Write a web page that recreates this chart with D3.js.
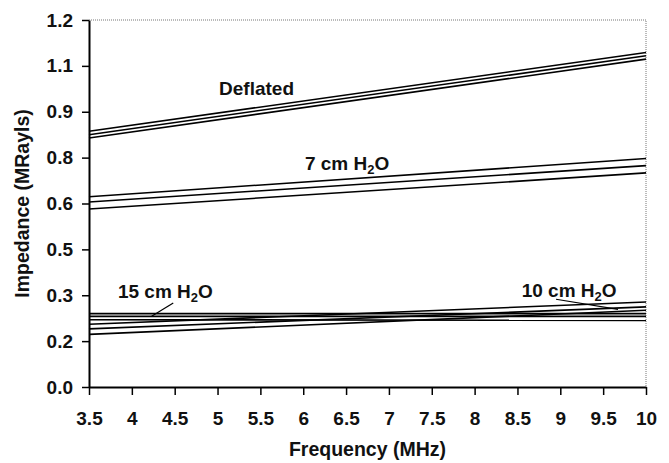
<!DOCTYPE html>
<html>
<head>
<meta charset="utf-8">
<script src="https://cdn.jsdelivr.net/npm/d3@7"></script>
<style>
  body { margin: 0; background: #fff; }
  svg text { font-family: "Liberation Sans", Arial, sans-serif; font-weight: bold; fill: #111; }
</style>
</head>
<body>
<div id="chart"></div>
<script>
// impedance at the two ends of the sweep (MHz)
var freqs = [3.5, 10];

var deflated = [[0.836, 1.094], [0.825, 1.083], [0.814, 1.072]];
var cm7 = [[0.622, 0.747], [0.605, 0.724], [0.582, 0.700]];
var cm15 = [[0.240, 0.240], [0.231, 0.231], [0.220, 0.218]];
var cm10 = [[0.205, 0.278], [0.190, 0.262], [0.172, 0.251]];

var xTicks = [3.5, 4, 4.5, 5, 5.5, 6, 6.5, 7, 7.5, 8, 8.5, 9, 9.5, 10];
var yTicks = [0, 0.15, 0.3, 0.45, 0.6, 0.75, 0.9, 1.05, 1.2];
var yTickLabels = ["0.0", "0.2", "0.3", "0.5", "0.6", "0.8", "0.9", "1.1", "1.2"];

var width = 669, height = 463;
var margin = {top: 20, right: 23, bottom: 76, left: 89};

var svg = d3.select("#chart").append("svg")
    .attr("width", width)
    .attr("height", height);

var x = d3.scaleLinear().domain([3.5, 10]).range([margin.left, width - margin.right]);
var y = d3.scaleLinear().domain([0, 1.2]).range([height - margin.bottom, margin.top]);

// top / right frame, dotted grey like the scan
svg.append("path")
    .attr("d", "M" + x(3.5) + "," + y(1.2) + "H" + x(10) + "V" + y(0))
    .attr("fill", "none")
    .attr("stroke", "#777")
    .attr("stroke-width", 1)
    .attr("stroke-dasharray", "1,1");

// x axis
var xAxis = svg.append("g")
    .attr("transform", "translate(0," + y(0) + ")")
    .call(d3.axisBottom(x).tickValues(xTicks).tickSize(8).tickSizeOuter(0).tickFormat(d3.format("")));
xAxis.select(".domain").attr("stroke", "#000").attr("stroke-width", 2);
xAxis.selectAll(".tick line").attr("stroke", "#000").attr("stroke-width", 1.5);
xAxis.selectAll(".tick text").attr("y", 38).attr("dy", 0).style("font-size", "19px").style("font-family", null);

// y axis
var yAxis = svg.append("g")
    .attr("transform", "translate(" + x(3.5) + ",0)")
    .call(d3.axisLeft(y).tickValues(yTicks).tickSize(7).tickSizeOuter(0)
        .tickFormat(function (d, i) { return yTickLabels[i]; }));
yAxis.select(".domain").attr("stroke", "#000").attr("stroke-width", 2);
yAxis.selectAll(".tick line").attr("stroke", "#000").attr("stroke-width", 1.5);
yAxis.selectAll(".tick text").attr("x", -16).style("font-size", "19px").style("font-family", null);

// curves
var line = d3.line()
    .x(function (d, i) { return x(freqs[i]); })
    .y(function (d) { return y(d); });

[deflated, cm7, cm15, cm10].forEach(function (group) {
    svg.append("g").selectAll("path")
        .data(group)
        .enter()
        .append("path")
        .attr("d", line)
        .attr("fill", "none")
        .attr("stroke", "#000")
        .attr("stroke-width", 1.6);
});

// labels
svg.append("text")
    .attr("x", x(5.455)).attr("y", y(0.955))
    .attr("text-anchor", "middle")
    .style("font-size", "19px")
    .text("Deflated");

function h2oLabel(fx, fy, num) {
    var t = svg.append("text")
        .attr("x", x(fx)).attr("y", y(fy))
        .style("font-size", "19px");
    t.append("tspan").text(num + " cm H");
    t.append("tspan").attr("dy", 4).style("font-size", "13px").text("2");
    t.append("tspan").attr("dy", -4).text("O");
}
h2oLabel(6.02, 0.708, "7");
h2oLabel(3.838, 0.29, "15");
h2oLabel(8.549, 0.295, "10");

// leader lines
var leaders = [
    [[4.483, 0.275], [4.231, 0.231]],
    [[8.95, 0.287], [9.673, 0.254]]
];
svg.append("g").selectAll("line")
    .data(leaders)
    .enter()
    .append("line")
    .attr("x1", function (d) { return x(d[0][0]); })
    .attr("y1", function (d) { return y(d[0][1]); })
    .attr("x2", function (d) { return x(d[1][0]); })
    .attr("y2", function (d) { return y(d[1][1]); })
    .attr("stroke", "#000")
    .attr("stroke-width", 1.2);

// axis titles
svg.append("text")
    .attr("x", x(6.75)).attr("y", 456)
    .attr("text-anchor", "middle")
    .style("font-size", "19.5px")
    .text("Frequency (MHz)");

svg.append("text")
    .attr("transform", "translate(29," + ((y(0) + y(1.2)) / 2) + ") rotate(-90)")
    .attr("text-anchor", "middle")
    .style("font-size", "19.5px")
    .text("Impedance (MRayls)");
</script>
</body>
</html>
